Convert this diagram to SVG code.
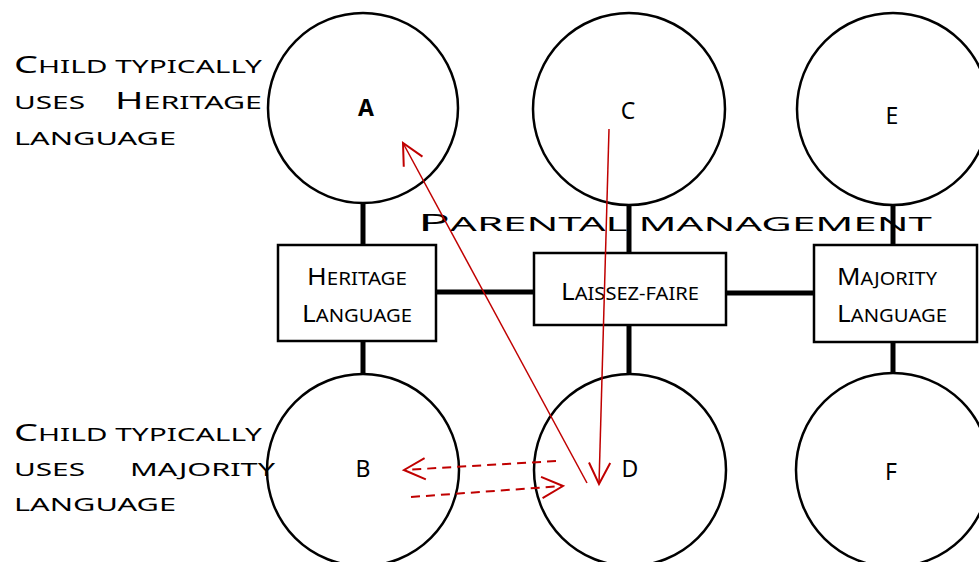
<svg xmlns="http://www.w3.org/2000/svg" width="979" height="562" viewBox="0 0 979 562">
<style>
.node circle{fill:#fff;stroke:#000;stroke-width:2.5}
.node rect{fill:#fff;stroke:#000;stroke-width:2.5}
.t{font-family:"Noto Sans","Open Sans",sans-serif;fill:#000}
.lbl{font-size:23px}
.big{font-size:24px}
.sm{font-size:18.5px}
.stem{stroke:#000;stroke-width:5;fill:none}
.red{stroke:#c00000;fill:none;stroke-width:1.5}
.dash{stroke:#c00000;fill:none;stroke-width:2;stroke-dasharray:9 6}
</style>
<defs>
<marker id="ah" markerUnits="userSpaceOnUse" markerWidth="30" markerHeight="30" viewBox="-20 -12 24 24" refX="0" refY="0" orient="auto">
<path d="M-17,-8.5 L0,0 L-17,8.5" fill="none" stroke="#c00000" stroke-width="1.6"/>
</marker>
</defs>
<g id="connectors">
<line class="stem" x1="363" y1="203" x2="363" y2="245"/>
<line class="stem" x1="363" y1="341" x2="363" y2="373"/>
<line class="stem" x1="629" y1="205" x2="629" y2="253"/>
<line class="stem" x1="629" y1="325" x2="629" y2="373"/>
<line class="stem" x1="893" y1="204" x2="893" y2="245"/>
<line class="stem" x1="893" y1="342" x2="893" y2="373"/>
<line class="stem" x1="436" y1="292" x2="534" y2="292"/>
<line class="stem" x1="726" y1="293" x2="813" y2="293"/>
</g>
<g id="node-A" class="node"><circle cx="363" cy="108" r="95"/><text class="t lbl" x="366" y="116" text-anchor="middle" font-weight="bold">A</text></g>
<g id="node-C" class="node"><circle cx="629" cy="109" r="96"/><text class="t lbl" x="628" y="119" text-anchor="middle">C</text></g>
<g id="node-E" class="node"><circle cx="893" cy="109" r="96"/><text class="t lbl" x="892" y="124" text-anchor="middle">E</text></g>
<g id="node-B" class="node"><circle cx="363" cy="470" r="96"/><text class="t lbl" x="363" y="477" text-anchor="middle">B</text></g>
<g id="node-D" class="node"><circle cx="630" cy="470" r="96"/><text class="t lbl" x="630" y="477" text-anchor="middle">D</text></g>
<g id="node-F" class="node"><circle cx="893" cy="470" r="97"/><text class="t lbl" x="891" y="480" text-anchor="middle">F</text></g>
<g id="node-heritage" class="node"><rect x="278" y="245" width="158" height="96"/>
<text class="t" x="307" y="285" textLength="100" lengthAdjust="spacingAndGlyphs"><tspan class="big">H</tspan><tspan class="sm">ERITAGE</tspan></text>
<text class="t" x="302" y="322" textLength="110" lengthAdjust="spacingAndGlyphs"><tspan class="big">L</tspan><tspan class="sm">ANGUAGE</tspan></text></g>
<g id="node-laissez" class="node"><rect x="534" y="253" width="192" height="72"/>
<text class="t" x="561" y="300" textLength="138" lengthAdjust="spacingAndGlyphs"><tspan class="big">L</tspan><tspan class="sm">AISSEZ-FAIRE</tspan></text></g>
<g id="node-majority" class="node"><rect x="814" y="245" width="163" height="97"/>
<text class="t" x="837" y="285" textLength="100" lengthAdjust="spacingAndGlyphs"><tspan class="big">M</tspan><tspan class="sm">AJORITY</tspan></text>
<text class="t" x="837" y="322" textLength="110" lengthAdjust="spacingAndGlyphs"><tspan class="big">L</tspan><tspan class="sm">ANGUAGE</tspan></text></g>
<g id="title">
<text class="t" x="418" y="231" textLength="514" lengthAdjust="spacingAndGlyphs"><tspan style="font-size:24px">P</tspan><tspan style="font-size:19px">ARENTAL MANAGEMENT</tspan></text>
</g>
<g id="label-heritage">
<text class="t" x="14" y="73" textLength="248" lengthAdjust="spacingAndGlyphs"><tspan style="font-size:23.5px">C</tspan><tspan style="font-size:18.5px">HILD TYPICALLY</tspan></text>
<text class="t" x="14" y="109" textLength="71" lengthAdjust="spacingAndGlyphs" style="font-size:18.5px">USES</text>
<text class="t" x="115" y="109" textLength="147" lengthAdjust="spacingAndGlyphs"><tspan style="font-size:23.5px">H</tspan><tspan style="font-size:18.5px">ERITAGE</tspan></text>
<text class="t" x="14" y="145" textLength="162" lengthAdjust="spacingAndGlyphs" style="font-size:18.5px">LANGUAGE</text>
</g>
<g id="label-majority">
<text class="t" x="14" y="441" textLength="248" lengthAdjust="spacingAndGlyphs"><tspan style="font-size:23.5px">C</tspan><tspan style="font-size:18.5px">HILD TYPICALLY</tspan></text>
<text class="t" x="14" y="476" textLength="71" lengthAdjust="spacingAndGlyphs" style="font-size:18.5px">USES</text>
<text class="t" x="130" y="476" textLength="145" lengthAdjust="spacingAndGlyphs" style="font-size:18.5px">MAJORITY</text>
<text class="t" x="14" y="511" textLength="162" lengthAdjust="spacingAndGlyphs" style="font-size:18.5px">LANGUAGE</text>
</g>
<g id="arrows">
<line class="red" x1="587" y1="483" x2="403" y2="143" marker-end="url(#ah)"/>
<line class="red" x1="609" y1="129" x2="599" y2="484" marker-end="url(#ah)"/>
<line class="dash" x1="556" y1="461" x2="404" y2="470" marker-end="url(#ah)"/>
<line class="dash" x1="411" y1="497" x2="563" y2="486" marker-end="url(#ah)"/>
</g>
</svg>
